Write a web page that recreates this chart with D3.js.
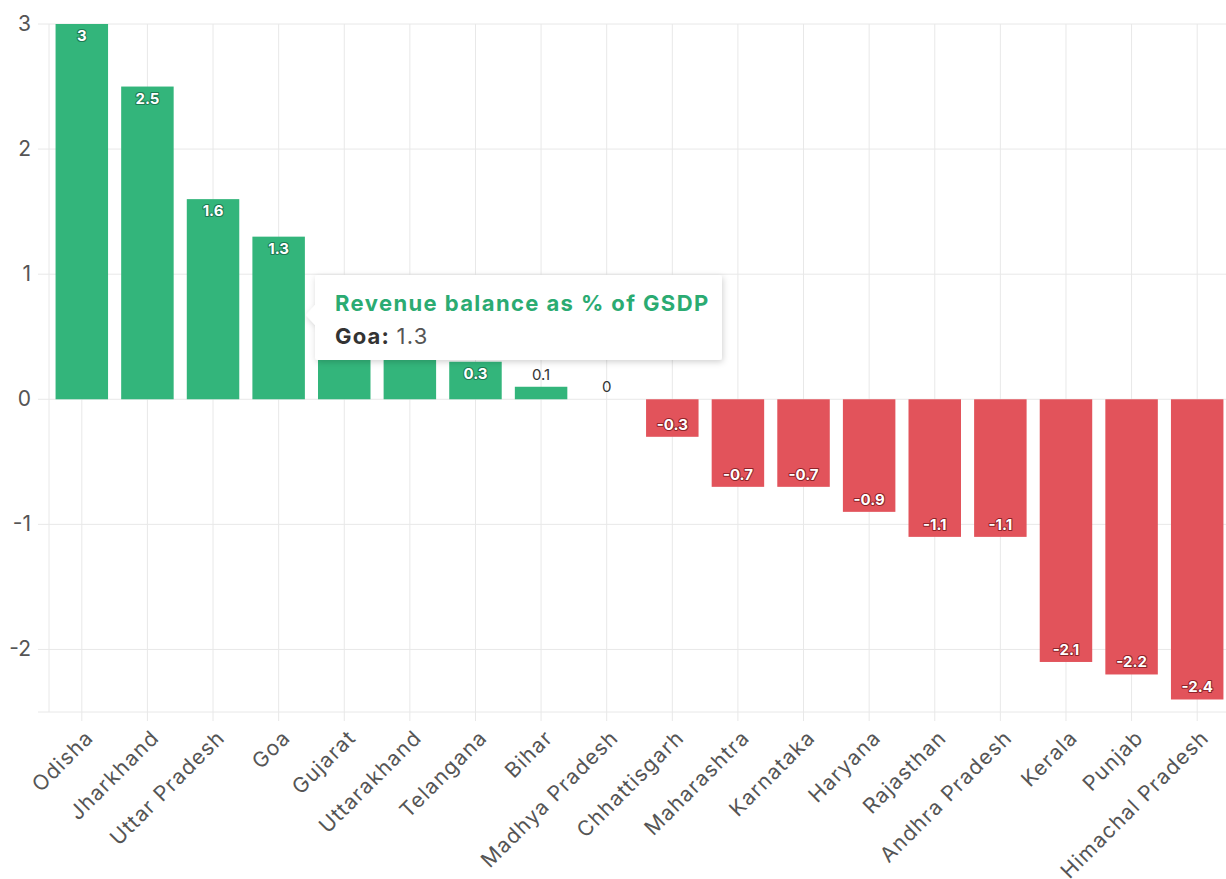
<!DOCTYPE html>
<html><head><meta charset="utf-8">
<script src="https://cdn.jsdelivr.net/npm/d3@7/dist/d3.min.js"></script>
<style>
body{margin:0;background:#fff;}
svg{display:block;font-family:Inter,"Open Sans",sans-serif;}
</style></head>
<body><svg id="c" width="1226" height="879"></svg>
<script>
const states = ["Odisha","Jharkhand","Uttar Pradesh","Goa","Gujarat","Uttarakhand","Telangana","Bihar","Madhya Pradesh","Chhattisgarh","Maharashtra","Karnataka","Haryana","Rajasthan","Andhra Pradesh","Kerala","Punjab","Himachal Pradesh"];
const values = [3,2.5,1.6,1.3,0.9,0.5,0.3,0.1,0,-0.3,-0.7,-0.7,-0.9,-1.1,-1.1,-2.1,-2.2,-2.4];
const yTicks = [-2,-1,0,1,2,3];
const seriesName = "Revenue balance as % of GSDP";
const tipState = "Goa";

const svg = d3.select("#c");
const x = d3.scaleBand().domain(states).range([49,1230]).paddingInner(0.2).paddingOuter(0.1);
const y = d3.scaleLinear().domain([-2.5,3]).range([712,24]);
const green="#33b57b", red="#e2535b";

// grid
const g = svg.append("g");
g.selectAll("line.h").data(yTicks).join("line")
 .attr("x1",38).attr("x2",1226).attr("y1",d=>y(d)).attr("y2",d=>y(d))
 .attr("stroke","#e8e8e8").attr("stroke-width",1);
g.append("line").attr("x1",38).attr("x2",1226).attr("y1",y(-2.5)).attr("y2",y(-2.5)).attr("stroke","#e8e8e8");
g.append("line").attr("x1",49).attr("x2",49).attr("y1",y(3)).attr("y2",y(-2.5)).attr("stroke","#e8e8e8");
g.selectAll("line.v").data(states).join("line")
 .attr("x1",d=>x(d)+x.bandwidth()/2).attr("x2",d=>x(d)+x.bandwidth()/2)
 .attr("y1",y(3)).attr("y2",y(-2.5)+9).attr("stroke","#e8e8e8");

// y labels
svg.append("g").selectAll("text").data(yTicks).join("text")
 .attr("x",31).attr("y",d=>y(d)+7).attr("text-anchor","end")
 .attr("font-size",21).attr("fill","#555").text(d=>d);

// x labels
svg.append("g").selectAll("text").data(states).join("text")
 .attr("transform",d=>`translate(${x(d)+x.bandwidth()/2+13},${y(-2.5)+27}) rotate(-45)`)
 .attr("text-anchor","end").attr("font-size",21).attr("letter-spacing",1.2).attr("fill","#555").text(d=>d);

// bars
svg.append("g").selectAll("rect").data(values).join("rect")
 .attr("x",(d,i)=>x(states[i])).attr("width",x.bandwidth())
 .attr("y",d=>y(Math.max(0,d))).attr("height",d=>Math.abs(y(d)-y(0)))
 .attr("fill",d=>d>=0?green:red);

// labels
svg.append("g").selectAll("text").data(values).join("text")
 .each(function(d,i){
   const t=d3.select(this);
   const cx=x(states[i])+x.bandwidth()/2;
   const h=Math.abs(y(d)-y(0));
   t.attr("x",cx).attr("text-anchor","middle").attr("font-size",15).attr("font-weight","bold").text(d);
   if(h<24){
     t.attr("y",y(Math.max(0,d))-7).attr("fill","#333").attr("font-weight","normal");
   } else if(d>0){
     t.attr("y",y(d)+17).attr("fill","#fff").attr("stroke","#1d7a52").attr("stroke-width",2).attr("paint-order","stroke").attr("stroke-linejoin","round");
   } else {
     t.attr("y",y(d)-7).attr("fill","#fff").attr("stroke","#8e2328").attr("stroke-width",2).attr("paint-order","stroke").attr("stroke-linejoin","round");
   }
 });

// tooltip
const tip = svg.append("g");
const defs = svg.append("defs");
const f = defs.append("filter").attr("id","sh").attr("x","-10%").attr("y","-20%").attr("width","120%").attr("height","150%");
f.append("feDropShadow").attr("dx",1).attr("dy",2).attr("stdDeviation",3).attr("flood-color","#000").attr("flood-opacity",0.18);
const tx=315, ty=275, tw=407, th=85;
tip.append("path")
 .attr("d",`M${tx+3},${ty} H${tx+tw-3} Q${tx+tw},${ty} ${tx+tw},${ty+3} V${ty+th-3} Q${tx+tw},${ty+th} ${tx+tw-3},${ty+th} H${tx+3} Q${tx},${ty+th} ${tx},${ty+th-3} V${ty+50} L${tx-9},${ty+40} L${tx},${ty+30} V${ty+3} Q${tx},${ty} ${tx+3},${ty} Z`)
 .attr("fill","#fff").attr("filter","url(#sh)");
tip.append("text").attr("x",335).attr("y",311).attr("font-size",22).attr("letter-spacing",1.4).attr("font-weight","bold").attr("fill","#2bab72").text(seriesName);
const l2 = tip.append("text").attr("x",335).attr("y",344).attr("font-size",22).attr("letter-spacing",1.2).attr("fill","#333");
l2.append("tspan").attr("font-weight","bold").text(tipState+": ");
l2.append("tspan").attr("fill","#555").text(values[states.indexOf(tipState)]);
</script></body></html>
